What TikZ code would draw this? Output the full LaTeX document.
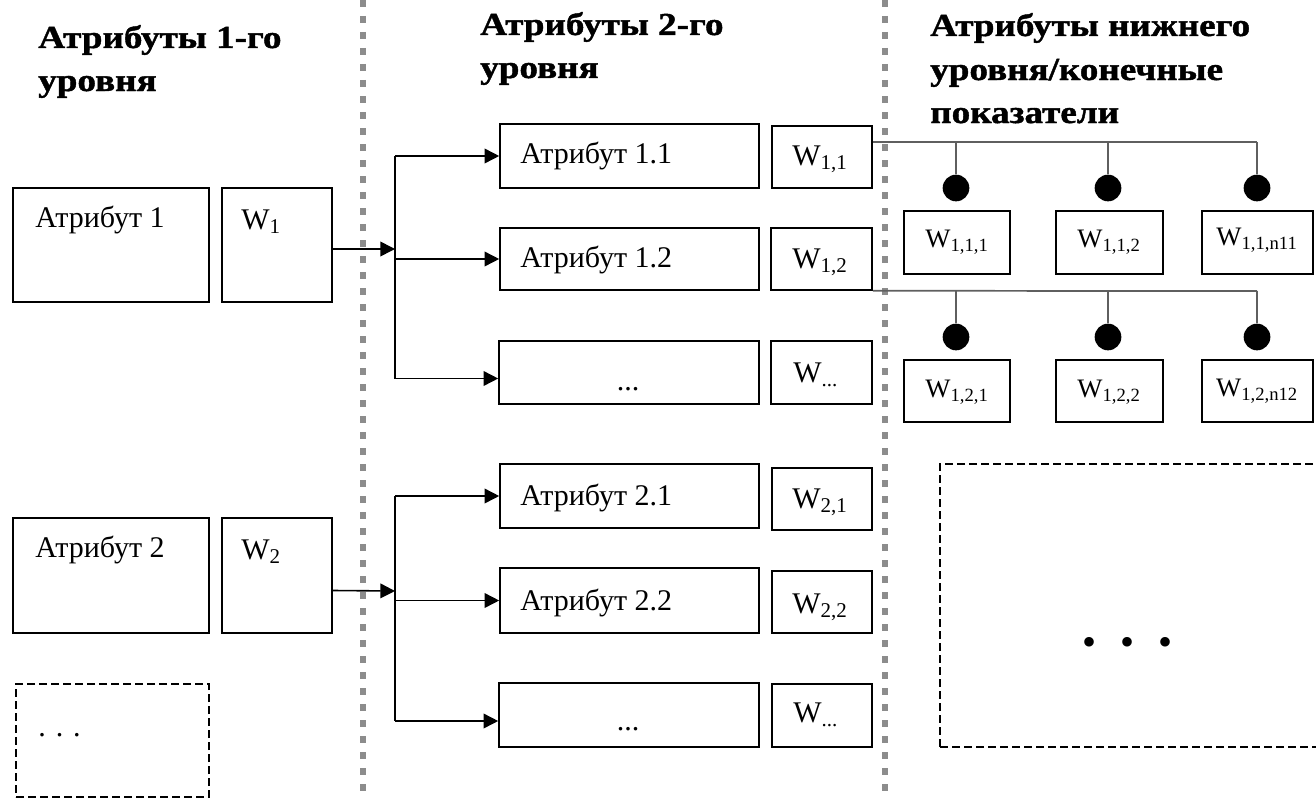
\documentclass[tikz,border=0pt]{standalone}
\usepackage{fontspec}
\setmainfont{Liberation Serif}
\newfontfamily\hdrfam{Liberation Serif}[FakeStretch=1.16, BoldFeatures={FakeBold=1.3}]
\usetikzlibrary{arrows.meta,fit,calc,shapes.geometric}
\definecolor{dotgray}{RGB}{140,140,140}
\definecolor{lngray}{RGB}{95,95,95}
\newcommand{\bodyf}{\fontsize{22.5pt}{27pt}\selectfont}
\newcommand{\rwf}{\fontsize{20pt}{24pt}\selectfont}
\newcommand{\hdrf}{\hdrfam\fontsize{24pt}{30pt}\selectfont\bfseries}
\begin{document}
\begin{tikzpicture}[x=0.75pt,y=-0.75pt,
  box/.style={draw, line width=1.2pt, inner sep=0pt},
  dbox/.style={draw, line width=1.1pt, inner sep=0pt, dash pattern=on 6pt off 3pt},
  txt/.style={inner sep=0pt, anchor=base west, font=\bodyf},
  ctxt/.style={inner sep=0pt, anchor=base, font=\bodyf},
  rtxt/.style={inner sep=0pt, anchor=base, font=\rwf},
  hdr/.style={inner sep=0pt, anchor=base west, font=\hdrf},
  arr/.style={line width=1.2pt, -{Triangle[length=11pt,width=11pt]}},
  ln/.style={line width=1.2pt},
  conn/.style={line width=1.3pt, color=lngray},
  sep/.style={line width=4.5pt, color=dotgray, dash pattern=on 5pt off 7pt},
  knob/.style={circle, fill=black, inner sep=0pt, minimum size=20pt}
]
\useasboundingbox (0,0) rectangle (1316,799);

% separators
\coordinate (s1t) at (363,0); \coordinate (s1b) at (363,799);
\coordinate (s2t) at (885,0); \coordinate (s2b) at (885,799);
\draw[sep] (s1t) -- (s1b);
\draw[sep] (s2t) -- (s2b);

% headers
\node[hdr] (h1a) at (38,48) {Атрибуты 1-го};
\node[hdr] (h1b) at (38,91) {уровня};
\node[hdr] (h2a) at (480,35) {Атрибуты 2-го};
\node[hdr] (h2b) at (480,78) {уровня};
\node[hdr] (h3a) at (930,36) {Атрибуты нижнего};
\node[hdr] (h3b) at (930,80) {уровня/конечные};
\node[hdr] (h3c) at (930,123) {показатели};

% level 1
\node[box, fit={(13,188)(209,302)}] (a1) {};
\node[box, fit={(222,188)(332,302)}] (w1) {};
\node[txt] (ta1) at (35,227) {Атрибут 1};
\node[txt] (tw1) at (241,229) {W\textsubscript{1}};

\node[box, fit={(13,518)(209,633)}] (a2) {};
\node[box, fit={(222,518)(332,633)}] (w2) {};
\node[txt] (ta2) at (35,557) {Атрибут 2};
\node[txt] (tw2) at (241,559) {W\textsubscript{2}};

\node[dbox, fit={(16,684)(209,797)}] (a3) {};
\node[txt] (ta3) at (38,736) {. . .};

% level 2, group 1
\node[box, fit={(500,124)(759,188)}] (a11) {};
\node[box, fit={(772,126)(872,188)}] (w11) {};
\node[box, fit={(500,228)(759,290)}] (a12) {};
\node[box, fit={(771,228)(872,290)}] (w12) {};
\node[box, fit={(499,341)(759,404)}] (d1) {};
\node[box, fit={(771,341)(872,404)}] (wd1) {};
\node[txt] (ta11) at (520,163) {Атрибут 1.1};
\node[ctxt] (tw11) at (820,165) {W\textsubscript{1,1}};
\node[txt] (ta12) at (520,267) {Атрибут 1.2};
\node[ctxt] (tw12) at (820,268) {W\textsubscript{1,2}};
\node[ctxt] (td1) at (628,390) {...};
\node[txt] (twd1) at (793,382) {W\textsubscript{...}};

% level 2, group 2
\node[box, fit={(500,464)(759,528)}] (a21) {};
\node[box, fit={(772,468)(872,530)}] (w21) {};
\node[box, fit={(500,568)(759,633)}] (a22) {};
\node[box, fit={(772,571)(872,633)}] (w22) {};
\node[box, fit={(499,683)(759,747)}] (d2) {};
\node[box, fit={(772,684)(872,747)}] (wd2) {};
\node[txt] (ta21) at (520,505) {Атрибут 2.1};
\node[ctxt] (tw21) at (820,508) {W\textsubscript{2,1}};
\node[txt] (ta22) at (520,610) {Атрибут 2.2};
\node[ctxt] (tw22) at (820,613) {W\textsubscript{2,2}};
\node[ctxt] (td2) at (628,730) {...};
\node[txt] (twd2) at (793,722) {W\textsubscript{...}};

% arrows group 1
\coordinate (t1) at (395,249);
\coordinate (d1in) at ($(d1.west)+(0,6)$);
\draw[arr] ($(w1.east)+(0,4)$) -- (t1);
\draw[ln] (a11.west -| t1) -- (d1in -| t1);
\draw[arr] (a11.west -| t1) -- (a11.west);
\draw[arr] (a12.west -| t1) -- (a12.west);
\draw[arr] (d1in -| t1) -- (d1in);

% arrows group 2
\coordinate (t2) at (395,591);
\coordinate (d2in) at ($(d2.west)+(0,6)$);
\draw[arr] ($(w2.east)+(0,15)$) -- (t2);
\draw[ln] (a21.west -| t2) -- (d2in -| t2);
\draw[arr] (a21.west -| t2) -- (a21.west);
\draw[arr] (a22.west -| t2) -- (a22.west);
\draw[arr] (d2in -| t2) -- (d2in);

% lowest level, row 1
\node[box, fit={(904,211)(1010,274)}] (r11) {};
\node[box, fit={(1056,211)(1163,274)}] (r12) {};
\node[box, fit={(1202,211)(1313,274)}] (r13) {};
\node[rtxt] (tr11) at (957,247) {W\textsubscript{1,1,1}};
\node[rtxt] (tr12) at (1109,247) {W\textsubscript{1,1,2}};
\node[rtxt] (tr13) at (1257,245) {W\textsubscript{1,1,n11}};
\coordinate (h1) at (1257,142);
\node[knob] (k11) at (956,188) {};
\node[knob] (k12) at (1108,188) {};
\node[knob] (k13) at (1257,188) {};
\draw[conn] (w11.east |- h1) -- (h1);
\draw[conn] (k11 |- h1) -- (k11.north);
\draw[conn] (k12 |- h1) -- (k12.north);
\draw[conn] (k13 |- h1) -- (k13.north);

% lowest level, row 2
\node[box, fit={(904,360)(1010,422)}] (r21) {};
\node[box, fit={(1056,360)(1163,422)}] (r22) {};
\node[box, fit={(1202,360)(1313,422)}] (r23) {};
\node[rtxt] (tr21) at (957,397) {W\textsubscript{1,2,1}};
\node[rtxt] (tr22) at (1109,397) {W\textsubscript{1,2,2}};
\node[rtxt] (tr23) at (1257,396) {W\textsubscript{1,2,n12}};
\coordinate (h2) at (1257,291);
\node[knob] (k21) at (956,337) {};
\node[knob] (k22) at (1108,337) {};
\node[knob] (k23) at (1257,337) {};
\draw[conn] (w12.south east) -- (h2);
\draw[conn] (k21 |- h2) -- (k21.north);
\draw[conn] (k22 |- h2) -- (k22.north);
\draw[conn] (k23 |- h2) -- (k23.north);

% more lowest-level attributes
\node[dbox, fit={(940,464)(1345,747)}] (more) {};
\node[inner sep=0pt, font=\fontsize{30pt}{30pt}\selectfont] (mdots) at (1127,646) {•\hspace{18pt}•\hspace{18pt}•};
\end{tikzpicture}
\end{document}
